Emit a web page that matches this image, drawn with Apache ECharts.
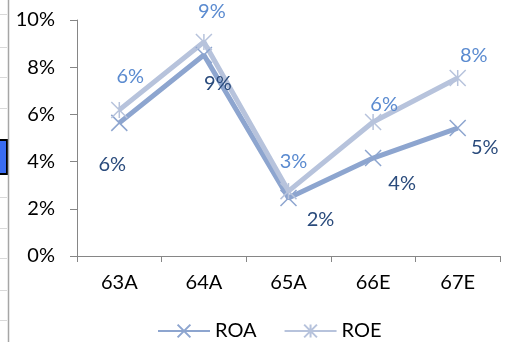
<!DOCTYPE html>
<html>
<head>
<meta charset="utf-8">
<style>
  html, body { margin: 0; padding: 0; background: #fff; }
  #chart { width: 509px; height: 342px; }
</style>
<script src="https://cdn.jsdelivr.net/npm/echarts@6/dist/echarts.min.js"></script>
</head>
<body>
<div id="chart"></div>
<script>
// Fiscal years (A = actual, E = estimate)
const categories = ['63A', '64A', '65A', '66E', '67E'];
// Return on assets / return on equity, as fractions
const roaValues = [0.0564, 0.0852, 0.0246, 0.0415, 0.0542];
const roeValues = [0.0619, 0.0907, 0.0275, 0.0568, 0.0754];
const yTickLabels = ['0%', '2%', '4%', '6%', '8%', '10%'];

// Label placement around each point, in pixels
const roaLabelOffsets = [[-7, 42], [14, 29], [32, 22], [29, 25], [27, 19]];
const roeLabelOffsets = [[11, -33], [8, -30], [5, -30], [11, -17], [16, -23]];

const FONT = 'Lato';
const FONT_SIZE = 20;
const ROA_COLOR = '#8da5cf';
const ROE_COLOR = '#b7c3dc';
const pct = v => Math.round(v * 100) + '%';

function withOffsets(values, offsets) {
  return values.map((v, i) => ({ value: v, label: { offset: offsets[i] } }));
}

const chart = echarts.init(document.getElementById('chart'), null, { renderer: 'canvas' });

// Spreadsheet edge visible at the left of the sheet
const cellLines = [14, 47, 77, 108, 197, 228, 258, 290, 320].map(y => ({
  type: 'line', shape: { x1: 0, y1: y + 0.5, x2: 7, y2: y + 0.5 },
  style: { stroke: '#d9d9d9', lineWidth: 1 }, silent: true
}));

chart.setOption({
  animation: false,
  backgroundColor: '#ffffff',
  textStyle: { fontFamily: FONT },
  graphic: [
    ...cellLines,
    { type: 'rect', shape: { x: -2, y: 140, width: 9, height: 34 },
      style: { fill: '#3a6cf0', stroke: '#000', lineWidth: 2 }, silent: true },
    { type: 'line', shape: { x1: 8.5, y1: 0, x2: 8.5, y2: 342 },
      style: { stroke: '#a6a6a6', lineWidth: 1.5 }, silent: true }
  ],
  grid: { left: 77, right: 9, top: 20, bottom: 86, containLabel: false },
  legend: {
    left: 157, top: 321, padding: 0,
    itemWidth: 52, itemHeight: 16, itemGap: 27,
    textStyle: { fontFamily: FONT, fontSize: FONT_SIZE, color: '#000', padding: [0, 0, 0, 0] },
    data: ['ROA', 'ROE']
  },
  xAxis: {
    type: 'category', data: categories, boundaryGap: true,
    axisLine: { lineStyle: { color: '#868686', width: 1 } },
    axisTick: { show: true, length: 6, inside: false, lineStyle: { color: '#868686' } },
    axisLabel: { fontFamily: FONT, fontSize: FONT_SIZE, color: '#000', margin: 17 },
    splitLine: { show: false }
  },
  yAxis: {
    type: 'value', min: 0, max: 0.10, interval: 0.02,
    axisLine: { show: true, lineStyle: { color: '#868686', width: 1 } },
    axisTick: { show: true, length: 7, inside: false, lineStyle: { color: '#868686' } },
    axisLabel: {
      fontFamily: FONT, fontSize: FONT_SIZE, color: '#000', margin: 22,
      formatter: v => yTickLabels[Math.round(v / 0.02)]
    },
    splitLine: { show: false }
  },
  series: [
    {
      name: 'ROA', type: 'line', data: withOffsets(roaValues, roaLabelOffsets),
      symbol: 'path://M0,0L10,10M10,0L0,10', symbolSize: 16,
      lineStyle: { color: ROA_COLOR, width: 5 },
      itemStyle: { color: ROA_COLOR, borderColor: ROA_COLOR, borderWidth: 1.5 },
      label: {
        show: true, position: 'inside', fontFamily: FONT, fontSize: FONT_SIZE,
        color: '#2a4b7c', formatter: p => pct(p.value)
      }
    },
    {
      name: 'ROE', type: 'line', data: withOffsets(roeValues, roeLabelOffsets),
      symbol: 'path://M0,0L10,10M10,0L0,10M5,0L5,10', symbolSize: 16,
      lineStyle: { color: ROE_COLOR, width: 5 },
      itemStyle: { color: ROE_COLOR, borderColor: ROE_COLOR, borderWidth: 1.5 },
      label: {
        show: true, position: 'inside', fontFamily: FONT, fontSize: FONT_SIZE,
        color: '#5b8bd0', formatter: p => pct(p.value)
      }
    }
  ]
});
</script>
</body>
</html>
